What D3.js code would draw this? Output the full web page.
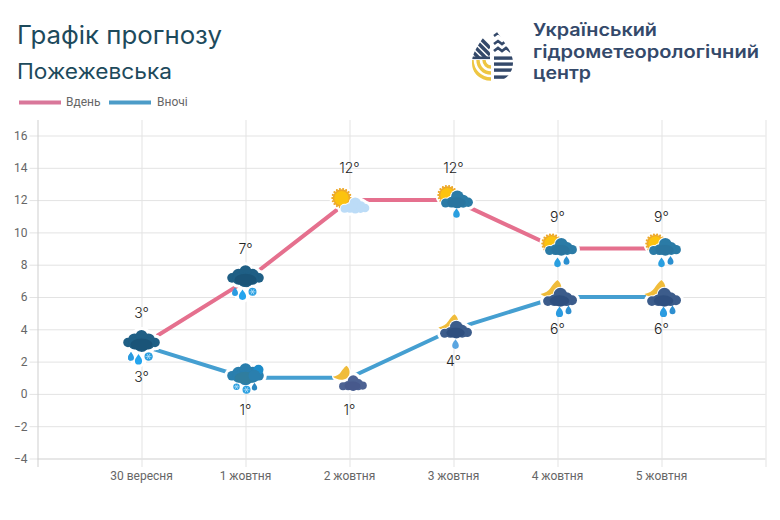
<!DOCTYPE html>
<html><head><meta charset="utf-8">
<script src="https://cdn.jsdelivr.net/npm/d3@7"></script>
<style>html,body{margin:0;padding:0;background:#fff}svg{display:block}</style></head>
<body><svg id="c" width="780" height="520"></svg>
<script>
const dates = ["30 вересня","1 жовтня","2 жовтня","3 жовтня","4 жовтня","5 жовтня"];
const dayTemps = [3,7,12,12,9,9];
const nightTemps = [3,1,1,4,6,6];
const yTicks = [-4,-2,0,2,4,6,8,10,12,14,16];
const dayIcons = ["sleet","sleet","sunCloud","sunRain1","sunRain2","sunRain2"];
const nightIcons = ["sleet","snowy","moonCloud","moonRain1","moonRain2","moonRain2"];
const titleLines = ["Графік прогнозу","Пожежевська"];
const logoLines = ["Український","гідрометеорологічний","центр"];

const svg = d3.select("#c");
const x = d3.scaleLinear().domain([-1,6]).range([37.5,765.5]);
const y = d3.scaleLinear().domain([-4,16]).range([458.5,135.5]);
const PINK="#e5708e", BLUE="#459fd1", GRID="#e3e3e3", TICK="#666";
const tickFont='Roboto,"Liberation Sans",sans-serif';
const headFont='Inter,"Noto Sans",sans-serif';

// titles
svg.append("text").attr("x",17).attr("y",44).attr("font-family",headFont).attr("font-size",25).attr("fill","#1d4a5c")
  .attr("textLength",205).attr("lengthAdjust","spacingAndGlyphs").text(titleLines[0]);
svg.append("text").attr("x",17).attr("y",79).attr("font-family",headFont).attr("font-size",21).attr("fill","#1d4a5c")
  .attr("textLength",155).attr("lengthAdjust","spacingAndGlyphs").text(titleLines[1]);

// legend
[[19,61,"Вдень",66,"#d9779a"],[109,151,"Вночі",157,"#4c9cc8"]].forEach(l=>{
  svg.append("line").attr("x1",l[0]).attr("x2",l[1]).attr("y1",102.5).attr("y2",102.5).attr("stroke",l[4]).attr("stroke-width",4);
  svg.append("text").attr("x",l[3]).attr("y",106).attr("font-family",tickFont).attr("font-size",12).attr("fill",TICK).text(l[2]);
});

// axes
const gy = svg.append("g").attr("transform","translate(37.5,0)")
  .call(d3.axisLeft(y).tickValues(yTicks).tickSize(8).tickPadding(2).tickFormat(d3.format("d")));
gy.select(".domain").remove();
gy.selectAll("line").attr("stroke",GRID);
gy.selectAll(".tick").append("line").attr("x1",0).attr("x2",728).attr("stroke",d=>d===-4?"#cfcfcf":GRID);
gy.selectAll("text").attr("font-family",tickFont).attr("font-size",12).attr("fill",TICK);

const allX = d3.range(-1,7);
const gx = svg.append("g").attr("transform","translate(-0.5,467)")
  .call(d3.axisBottom(x).tickValues(allX).tickSize(0).tickPadding(4).tickFormat(i=>dates[i]||""));
gx.select(".domain").remove();
gx.selectAll(".tick line").attr("y1",-347).attr("y2",0).attr("stroke",d=>d===-1?"#cfcfcf":GRID).attr("transform","translate(0.5,0)");
gx.selectAll("text").attr("font-family",tickFont).attr("font-size",12).attr("fill",TICK);

// lines
const line = d3.line().x((d,i)=>x(i)).y(d=>y(d));
svg.append("path").datum(nightTemps).attr("d",line).attr("fill","none").attr("stroke",BLUE).attr("stroke-width",4);
svg.append("path").datum(dayTemps).attr("d",line).attr("fill","none").attr("stroke",PINK).attr("stroke-width",4);

// icon pieces
const SYM=[[-13.5,1,4.8],[13.5,1,4.8],[-7,-1.5,6.5],[7,-1.5,6.5],[0,-5.5,6],[-7,2,6],[7,2,6],[0,3,7.5]];
const LOPSIDED=[[-13,3.5,5.4],[14,2.5,5.6],[-6,2.5,6.4],[8,0,6.5],[1,-4,7.5],[1,3,6.8],[8,3,6]];
function cloudHalo(g,cx,cy,w,pad,shape){
  const u=w/37;
  g.append("g").attr("transform",`translate(${cx},${cy})`).selectAll(null).data(shape||SYM).join("circle")
   .attr("cx",d=>d[0]*u).attr("cy",d=>d[1]*u).attr("r",d=>d[2]*u+pad).attr("fill","#fff");
}
function cloud(g,cx,cy,w,color,color2,shape){
  const u=w/37;
  const grp=g.append("g").attr("transform",`translate(${cx},${cy})`);
  grp.selectAll(null).data(shape||SYM).join("circle")
   .attr("cx",d=>d[0]*u).attr("cy",d=>d[1]*u).attr("r",d=>d[2]*u).attr("fill",color);
  if(color2) grp.append("ellipse").attr("cx",0).attr("cy",3*u).attr("rx",11*u).attr("ry",6*u).attr("fill",color2);
}
function halo(g,cx,cy,r){g.append("circle").attr("cx",cx).attr("cy",cy).attr("r",r).attr("fill","#fff");}
function drop(g,cx,cy,s,color){
  g.append("path").attr("transform",`translate(${cx},${cy}) scale(${s})`)
   .attr("d","M0,-4.5C1.2,-2.4 3,-1 3,1.2A3,3 0 0 1 -3,1.2C-3,-1 -1.2,-2.4 0,-4.5Z")
   .attr("fill",color||"#2a9fe0");
}
function flake(g,cx,cy,r,color){
  const f=g.append("g").attr("transform",`translate(${cx},${cy})`);
  f.append("circle").attr("r",r).attr("fill",color||"#2a9fe0");
  d3.range(3).forEach(i=>f.append("line").attr("x1",-r*.75).attr("x2",r*.75).attr("transform",`rotate(${i*60})`).attr("stroke","#bfe4fa").attr("stroke-width",.7));
}
function sun(g,cx,cy,r){
  const s=g.append("g").attr("transform",`translate(${cx},${cy})`);
  s.append("circle").attr("r",r+3.2).attr("fill","#fff");
  d3.range(18).forEach(i=>s.append("circle").attr("cx",(r+.4)*Math.cos(i/18*2*Math.PI)).attr("cy",(r+.4)*Math.sin(i/18*2*Math.PI)).attr("r",1.1).attr("fill","#eda92a"));
  s.append("circle").attr("r",r).attr("fill","#eda92a");
  s.append("circle").attr("r",r-1.6).attr("fill","#fcc30f");
}
function moon(g,cx,cy,s){
  g.append("path").attr("transform",`translate(${cx},${cy}) scale(${s})`)
   .attr("d","M0,-17C5,-13 5,-6 1,-2C-4,2 -12,1 -17,-3C-12,-4 -9,-6 -7,-9C-5,-12 -3,-15 0,-17Z")
   .attr("fill","#f0bc3a");
}
const DARK="#1f5f85", DARK2="#1a5478", NIGHT="#3c5c8b", NIGHT2="#2f4f7f", MID="#2b7ba6";
function layered(g,cx,cy,w,c1,c2,under,shape){
  cloudHalo(g,cx,cy,w,3,shape); under(); cloudHalo(g,cx,cy,w,1,shape); cloud(g,cx,cy,w,c1,c2,shape);
}
const iconDraw = {
  sleet(g){ cloudHalo(g,0,-4,37,3); cloud(g,0,-4,37,DARK,DARK2);
    halo(g,-3,14,8); drop(g,-10.5,11,1,"#2b9be0"); drop(g,-3,14,1.2,"#25a5ee"); flake(g,7,11,4); },
  snowy(g){ halo(g,13,-8,7); cloudHalo(g,0,-3,37,3); cloud(g,0,-3,37,"#2a7fae","#2f7d9f");
    g.append("circle").attr("cx",13).attr("cy",-8).attr("r",5).attr("fill","#1d8cc9");
    g.append("circle").attr("cx",9).attr("cy",-2).attr("r",6).attr("fill","#2a7fae");
    flake(g,-9,9,3.2); flake(g,1,12,4); drop(g,9,9,.9,"#2a86c0"); },
  moonCloud(g){ halo(g,-8,-4,10); layered(g,3,6,27,"#4d6293","#47598c",()=>moon(g,-3,1.5,.8),LOPSIDED); },
  moonRain1(g){ halo(g,-7,-8,11); layered(g,2,1,31,NIGHT,NIGHT2,()=>moon(g,1,1,.95),LOPSIDED); drop(g,2,15,1.1,"#5aa5e0"); },
  moonRain2(g){ halo(g,-7,-9,11); layered(g,2,1,33,NIGHT,NIGHT2,()=>moon(g,0,0,1),LOPSIDED); drop(g,2,15,1.2,"#2b9be0"); drop(g,11,13,1,"#2e8fd0"); },
  sunCloud(g){ layered(g,5,6,28,"#bcdcf7",null,()=>sun(g,-8,-2,8.8),LOPSIDED); },
  sunRain1(g){ layered(g,3,0,31,MID,"#2a759f",()=>sun(g,-6,-5,8.8),LOPSIDED); drop(g,3,13,1.1,"#2a9fe0"); },
  sunRain2(g){ layered(g,3,-1,31,MID,"#2a759f",()=>sun(g,-6,-5,8.8),LOPSIDED); drop(g,0,14,1.1,"#2a9fe0"); drop(g,9,12,1,"#2a8fd0"); }
};

// icons and labels
function series(vals,icons){
  vals.forEach((v,i)=>{
    const g=svg.append("g").attr("transform",`translate(${x(i)},${y(v)})`);
    iconDraw[icons[i]](g);
  });
}
series(nightTemps,nightIcons);
series(dayTemps,dayIcons);

const labFont='Inter,"Noto Sans",sans-serif';
svg.append("g").selectAll("text").data(dayTemps).join("text").attr("x",(d,i)=>x(i)).attr("y",d=>y(d)-27)
  .attr("text-anchor","middle").attr("font-family",labFont).attr("font-size",14).attr("font-weight",300).attr("fill","#222").text(d=>d+"°");
svg.append("g").selectAll("text").data(nightTemps).join("text").attr("x",(d,i)=>x(i)).attr("y",d=>y(d)+37)
  .attr("text-anchor","middle").attr("font-family",labFont).attr("font-size",14).attr("font-weight",300).attr("fill","#222").text(d=>d+"°");

// logo
const LOGO="#34496a";
const defs=svg.append("defs");
const DROP="M492,23C497,36 513,48 513,63C513,74 504,82 492,82C481,82 472,74 472,63C472,48 487,36 492,23Z";
defs.append("clipPath").attr("id","dropClip").append("path").attr("d",DROP);
defs.append("clipPath").attr("id","quad").append("rect").attr("x",470).attr("y",60).attr("width",21).attr("height",24);
defs.append("clipPath").attr("id","upLeft").append("path").attr("d","M470,20H490V57H470Z");
const lg=svg.append("g").attr("clip-path","url(#dropClip)");
[58,64,70,77].forEach(v=>lg.append("rect").attr("x",494).attr("y",v-1.6).attr("width",20).attr("height",3.4).attr("fill",LOGO));
[[51,2.8],[44,2.6],[36,2.4]].forEach(r=>{
  lg.append("path").attr("d",`M494,${r[0]}l4,-3l4,3l4,-3l4,3l4,-3`).attr("fill","none").attr("stroke",LOGO).attr("stroke-width",r[1]);
});
const dg=lg.append("g").attr("clip-path","url(#upLeft)");
[34,41,48,55].forEach(v=>dg.append("line").attr("x1",468).attr("x2",490).attr("y1",v-8).attr("y2",v+14).attr("stroke",LOGO).attr("stroke-width",3.4));
lg.append("rect").attr("x",472).attr("y",56.5).attr("width",18).attr("height",2.6).attr("fill",LOGO);
const yg=lg.append("g").attr("clip-path","url(#quad)");
[19,13,7].forEach(r=>yg.append("circle").attr("cx",491).attr("cy",60).attr("r",r).attr("fill","none").attr("stroke","#eec643").attr("stroke-width",3.4));

logoLines.forEach((t,i)=>{
  const wid=[124,226,58][i];
  svg.append("text").attr("x",533).attr("y",[36,58,79][i]).attr("font-family",headFont).attr("font-weight",600)
    .attr("font-size",17.5).attr("fill",LOGO).attr("textLength",wid).attr("lengthAdjust","spacingAndGlyphs").text(t);
});
</script></body></html>
